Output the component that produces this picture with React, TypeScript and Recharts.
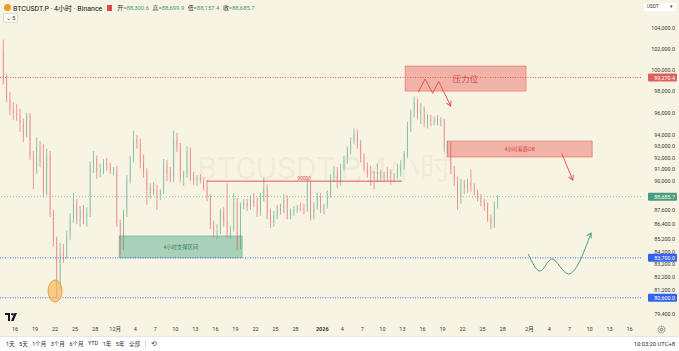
import React from "react";
import {
  ComposedChart,
  Bar,
  Line,
  XAxis,
  YAxis,
  ReferenceLine,
  ReferenceArea,
  ReferenceDot,
} from "recharts";

// BTCUSDT.P, read off the 4h chart and merged into 12h candles (thousands USDT)
// first candle opens 2025-11-14 00:00
const openK = [
  101.9, 99.0, 97.3, 96.2, 96.0, 95.9, 95.0, 94.0, 95.8, 92.2, 90.9, 93.0, 91.6, 89.0, 92.3, 87.3, 85.2, 81.6, 84.0, 83.9,
  85.4, 86.9, 88.0, 86.8, 87.6, 86.9, 87.3, 91.4, 91.9, 90.8, 91.0, 91.6, 91.3, 90.9, 91.0, 86.5, 84.6, 87.3, 90.2, 91.9,
  93.6, 93.3, 91.6, 90.8, 89.2, 89.5, 89.1, 88.8, 89.2, 91.4, 90.6, 90.2, 93.6, 92.9, 90.3, 90.6, 92.6, 90.3, 90.1, 90.2,
  90.0, 89.5, 88.6, 86.3, 85.7, 85.9, 87.4, 86.6, 85.8, 86.0, 88.3, 84.6, 87.9, 88.2, 87.9, 88.4, 88.1, 87.4, 88.6, 89.4,
  87.2, 86.6, 87.1, 87.7, 87.5, 88.5, 87.1, 87.4, 87.6, 87.8, 87.7, 87.6, 89.8, 87.0, 87.9, 88.7, 87.6, 87.9, 88.9, 90.3,
  90.9, 89.9, 91.2, 91.8, 92.6, 93.5, 94.2, 93.3, 92.0, 91.1, 90.6, 90.4, 90.2, 90.7, 90.3, 90.5, 90.4, 90.2, 90.5, 90.9,
  91.4, 92.3, 94.8, 96.0, 97.0, 95.9, 96.3, 95.1, 95.5, 95.2, 95.4, 95.1, 95.3, 92.9, 93.1, 91.0, 90.0, 88.6, 89.8, 89.4,
  89.9, 89.5, 89.1, 88.6, 88.2, 87.9, 87.0, 86.3, 87.9,
];
const highK = [
  102.9, 99.6, 97.9, 97.0, 96.8, 96.4, 95.5, 96.0, 96.0, 92.6, 93.8, 93.5, 93.2, 92.8, 92.6, 87.6, 85.4, 84.9, 84.8, 85.9,
  87.3, 89.0, 88.5, 87.9, 88.0, 87.8, 91.7, 92.6, 92.2, 91.5, 91.9, 92.0, 91.6, 91.2, 91.3, 86.8, 87.6, 90.5, 92.2, 94.4,
  94.0, 93.7, 92.3, 91.1, 89.8, 89.9, 89.7, 89.3, 91.9, 91.8, 91.2, 94.4, 94.2, 93.3, 90.9, 93.0, 92.9, 90.8, 90.5, 90.6,
  90.3, 90.1, 88.9, 86.7, 86.4, 87.7, 87.8, 89.8, 86.3, 89.0, 88.6, 88.2, 88.5, 88.5, 88.8, 89.0, 88.6, 89.0, 90.3, 89.7,
  87.7, 87.5, 88.0, 88.1, 88.9, 88.8, 87.7, 87.9, 88.0, 88.2, 88.1, 90.2, 90.0, 88.2, 89.0, 89.0, 88.1, 89.2, 90.6, 91.3,
  91.2, 91.5, 92.2, 93.0, 93.8, 94.6, 94.5, 93.6, 92.4, 91.6, 91.3, 90.9, 91.5, 91.0, 90.8, 91.2, 91.0, 90.7, 91.5, 91.8,
  92.6, 95.2, 96.3, 97.5, 97.3, 96.9, 96.6, 95.9, 95.8, 95.7, 95.8, 95.6, 95.5, 93.5, 93.4, 91.3, 90.4, 90.2, 90.1, 90.2,
  91.0, 89.8, 89.3, 88.9, 88.5, 88.2, 87.2, 88.3, 88.8,
];
const lowK = [
  98.6, 97.0, 95.8, 95.4, 95.3, 94.3, 93.4, 93.8, 91.8, 89.3, 90.6, 91.2, 88.6, 88.8, 87.0, 84.6, 80.6, 81.3, 83.3, 83.6,
  85.1, 86.5, 86.4, 86.2, 86.4, 86.2, 87.0, 90.7, 90.2, 90.3, 90.6, 90.9, 90.6, 90.5, 86.2, 83.9, 84.3, 87.0, 89.8, 91.6,
  92.8, 91.1, 90.3, 88.0, 88.5, 88.8, 87.6, 88.4, 88.9, 90.0, 89.9, 89.9, 92.5, 89.9, 89.6, 90.3, 90.0, 89.7, 89.6, 89.8,
  89.2, 88.3, 86.0, 85.3, 85.2, 85.6, 86.2, 85.3, 85.2, 85.8, 84.3, 84.4, 87.6, 87.5, 87.6, 87.8, 87.0, 87.1, 88.3, 86.8,
  86.1, 86.2, 86.8, 87.2, 87.3, 86.8, 86.8, 87.1, 87.3, 87.5, 87.2, 87.4, 86.7, 86.8, 87.6, 87.3, 87.2, 87.7, 88.6, 89.9,
  89.4, 89.6, 90.9, 91.5, 92.3, 93.2, 92.8, 91.6, 90.8, 90.3, 89.6, 89.3, 89.9, 90.0, 89.9, 90.0, 89.7, 89.9, 90.2, 90.4,
  91.0, 92.0, 94.3, 95.6, 95.4, 95.0, 94.7, 94.6, 94.8, 94.9, 94.9, 94.8, 92.5, 92.4, 90.6, 89.6, 87.6, 88.1, 88.9, 89.0,
  89.1, 88.8, 88.3, 87.9, 87.5, 86.6, 86.0, 86.1, 87.7,
];
const closeK = [
  99.0, 97.3, 96.2, 96.0, 95.9, 95.0, 94.0, 95.8, 92.2, 90.9, 93.0, 91.6, 89.0, 92.3, 87.3, 85.2, 81.6, 84.0, 83.9, 85.4,
  86.9, 88.0, 86.8, 87.6, 86.9, 87.3, 91.4, 91.9, 90.8, 91.0, 91.6, 91.3, 90.9, 91.0, 86.5, 84.6, 87.3, 90.2, 91.9, 93.6,
  93.3, 91.6, 90.8, 89.2, 89.5, 89.1, 88.8, 89.2, 91.4, 90.6, 90.2, 93.6, 92.9, 90.3, 90.6, 92.6, 90.3, 90.1, 90.2, 90.0,
  89.5, 88.6, 86.3, 85.7, 85.9, 87.4, 86.6, 85.8, 86.0, 88.3, 84.6, 87.9, 88.2, 87.9, 88.4, 88.1, 87.4, 88.6, 89.4, 87.2,
  86.6, 87.1, 87.7, 87.5, 88.5, 87.1, 87.4, 87.6, 87.8, 87.7, 87.6, 89.8, 87.0, 87.9, 88.7, 87.6, 87.9, 88.9, 90.3, 90.9,
  89.9, 91.2, 91.8, 92.6, 93.5, 94.2, 93.3, 92.0, 91.1, 90.6, 90.4, 90.2, 90.7, 90.3, 90.5, 90.4, 90.2, 90.5, 90.9, 91.4,
  92.3, 94.8, 96.0, 97.0, 95.9, 96.3, 95.1, 95.5, 95.2, 95.4, 95.1, 95.3, 92.9, 93.1, 91.0, 90.0, 88.6, 89.8, 89.4, 89.9,
  89.5, 89.1, 88.6, 88.2, 87.9, 87.0, 86.3, 87.9, 88.686,
];

// x is measured in days from 2025-11-16 00:00
const FIRST_DAY = -2;
const CANDLE_DAYS = 0.5;

const dayTicks = [0, 3, 6, 9, 12, 15, 18, 21, 24, 27, 30, 33, 36, 39, 42, 46, 49, 52, 55, 58, 61, 64, 67, 70, 73, 77, 80, 83, 86, 89, 92];
const dayLabels = ["16", "19", "22", "25", "28", "12月", "4", "7", "10", "13", "16", "19", "22", "25", "28", "2026", "4", "7", "10", "13", "16", "19", "22", "25", "28", "2月", "4", "7", "10", "13", "16"];
const priceTicks = [79400, 81200, 82200, 83200, 84200, 85200, 86400, 87600, 90000, 91000, 92000, 93000, 94000, 96000, 98000, 100000, 102000, 104000];

const resistanceLine = 99270.4;
const lastPrice = 88685.7;
const supportLines = [83700, 80600];

// drawings on the chart (day, price)
const supportZone = { from: 15.6, to: 34.0, low: 83700, high: 85450, text: "4小时支撑区间" };
const pressureZone = { from: 58.4, to: 76.5, low: 98000, high: 100350, text: "压力位" };
const obZone = { from: 64.7, to: 86.4, low: 92080, high: 93480, text: "4小时看跌OB" };
const level90k = { from: 28.7, to: 57.9, price: 90000, text: "90000" };
const zigzag = [
  { t: 60.37, p: 97890 },
  { t: 61.38, p: 99130 },
  { t: 62.53, p: 97800 },
  { t: 63.43, p: 98910 },
  { t: 65.22, p: 96630 },
];
const obArrow = [
  { t: 81.84, p: 92400 },
  { t: 83.49, p: 90100 },
];
const wave = [
  { t: 76.84, p: 84000 },
  { t: 78.59, p: 82660 },
  { t: 80.34, p: 83610 },
  { t: 82.83, p: 82430 },
  { t: 86.23, p: 85690 },
];
const lowMark = { t: 6.0, p: 81110 };

const ohlcNames = ["开", "高", "低", "收"];
const ohlcValues = ["88,300.6", "88,699.9", "88,157.4", "88,685.7"];
const rangeButtons = ["1天", "5天", "1个月", "3个月", "6个月", "YTD", "1年", "5年", "全部"];

const candles = closeK.map((c, i) => ({
  t: FIRST_DAY + i * CANDLE_DAYS + CANDLE_DAYS / 2,
  open: openK[i] * 1000,
  high: highK[i] * 1000,
  low: lowK[i] * 1000,
  close: c * 1000,
}));

const FONT = "Roboto, 'Noto Sans CJK SC', sans-serif";
const BG = "#f8f4e3";
const UP = "#4aa285";
const DOWN = "#e2575a";

const Candle = (props: any) => {
  const { x, y, width, height, payload } = props;
  if (!payload || !isFinite(y) || !isFinite(height)) return <g />;
  const top = Math.min(y, y + height);
  const h = Math.abs(height);
  const lnH = Math.log(payload.high);
  const lnL = Math.log(payload.low);
  const toY = (p: number) => top + ((lnH - Math.log(p)) / (lnH - lnL)) * h;
  const up = payload.close >= payload.open;
  const color = up ? UP : DOWN;
  const cx = x + width / 2;
  const b1 = toY(Math.max(payload.open, payload.close));
  const b2 = toY(Math.min(payload.open, payload.close));
  return (
    <g>
      <line x1={cx} x2={cx} y1={top} y2={top + h} stroke={color} strokeOpacity={0.6} strokeWidth={1} />
      <rect x={x} y={b1} width={width} height={Math.max(1, b2 - b1)} fill={color} />
    </g>
  );
};

const DayTick = (props: any) => {
  const { x, payload } = props;
  const label = dayLabels[dayTicks.indexOf(payload.value)];
  return (
    <text x={x} y={331} textAnchor="middle" fontSize={5.5} fill="#3a3a3a" fontFamily={FONT} fontWeight={label === "2026" ? 700 : 400}>
      {label}
    </text>
  );
};

const PriceTick = (props: any) => {
  const { y, payload } = props;
  return (
    <text x={675} y={y + 2} textAnchor="end" fontSize={5.4} fill="#3a3a3a" fontFamily={FONT}>
      {payload.value.toLocaleString("en-US", { minimumFractionDigits: 1, maximumFractionDigits: 1 })}
    </text>
  );
};

const priceTag = (value: number, bg: string) => (props: any) => {
  const y = props.viewBox?.y ?? 0;
  return (
    <g>
      <rect x={648} y={y - 4} width={29} height={8} fill={bg} rx={1} />
      <text x={675} y={y + 2} textAnchor="end" fontSize={5.4} fill="#ffffff" fontFamily={FONT}>
        {value.toLocaleString("en-US", { minimumFractionDigits: 1, maximumFractionDigits: 1 })}
      </text>
    </g>
  );
};

const arrowDot = (count: number, angle: number, color: string) => (p: any) =>
  p.index === count - 1 ? (
    <path
      key={`a${p.index}`}
      d="M-4.5,-2.6 L0,0 L-4.5,2.6"
      transform={`translate(${p.cx},${p.cy}) rotate(${angle})`}
      fill="none"
      stroke={color}
      strokeWidth={1}
    />
  ) : (
    <g key={`a${p.index}`} />
  );

export default function App() {
  return (
    <div style={{ position: "fixed", left: 0, top: 0, width: 679, height: 351, background: BG, overflow: "hidden", fontFamily: FONT }}>
      {/* watermark */}
      <div
        style={{
          position: "absolute",
          left: 197,
          top: 142,
          fontSize: 32,
          color: "rgba(120,110,80,0.07)",
          whiteSpace: "nowrap",
          fontFamily: FONT,
        }}
      >
        BTCUSDT.P, 4小时
      </div>

      <div style={{ position: "absolute", left: 0, top: 0 }}>
        <ComposedChart width={679} height={336} data={candles} margin={{ top: 0, right: 0, bottom: 0, left: 0 }}>
          <XAxis
            dataKey="t"
            type="number"
            domain={[-2.245, 93.71]}
            allowDataOverflow
            ticks={dayTicks}
            interval={0}
            axisLine={false}
            tickLine={false}
            height={14}
            tick={DayTick}
          />
          <YAxis
            orientation="right"
            type="number"
            scale="log"
            domain={[78771, 106823]}
            allowDataOverflow
            ticks={priceTicks}
            interval={0}
            width={38}
            axisLine={false}
            tickLine={false}
            tick={PriceTick}
          />

          <ReferenceArea
            x1={supportZone.from}
            x2={supportZone.to}
            y1={supportZone.low}
            y2={supportZone.high}
            fill="#4aa582"
            fillOpacity={0.45}
            stroke="#4aa582"
            strokeOpacity={0.5}
            label={{ value: supportZone.text, position: "center", fontSize: 5.3, fill: "#3c8467", fontFamily: FONT }}
          />
          <ReferenceArea
            x1={pressureZone.from}
            x2={pressureZone.to}
            y1={pressureZone.low}
            y2={pressureZone.high}
            fill="#e8635f"
            fillOpacity={0.45}
            stroke="#e8635f"
            strokeOpacity={0.6}
            label={{ value: pressureZone.text, position: "center", fontSize: 8.5, fill: "#e04848", fontFamily: FONT }}
          />
          <ReferenceArea
            x1={obZone.from}
            x2={obZone.to}
            y1={obZone.low}
            y2={obZone.high}
            fill="#e8635f"
            fillOpacity={0.45}
            stroke="#e8635f"
            strokeOpacity={0.6}
            label={{ value: obZone.text, position: "center", fontSize: 5.2, fill: "#d84444", fontFamily: FONT }}
          />

          <Bar dataKey={(d: any) => [d.low, d.high]} barSize={2.6} shape={Candle} isAnimationActive={false} />

          <ReferenceLine
            segment={[
              { x: level90k.from, y: level90k.price },
              { x: level90k.to, y: level90k.price },
            ]}
            stroke="#e25555"
            strokeWidth={1}
            label={{ value: level90k.text, position: "top", offset: 1.5, fontSize: 4.8, fill: "#e25555", fontFamily: FONT }}
          />
          <ReferenceLine y={resistanceLine} stroke="#e06060" strokeDasharray="1 1.5" label={priceTag(resistanceLine, "#df5f5f")} />
          <ReferenceLine y={lastPrice} stroke="#94c2a6" strokeDasharray="1 2" label={priceTag(lastPrice, "#4a9a7c")} />
          {supportLines.map((p) => (
            <ReferenceLine key={p} y={p} stroke="#4a70ea" strokeDasharray="1 1.5" label={priceTag(p, "#3462ee")} />
          ))}

          <Line
            data={zigzag}
            dataKey="p"
            type="linear"
            stroke="#e25555"
            strokeWidth={1}
            dot={arrowDot(zigzag.length, 64, "#e25555")}
            activeDot={false}
            isAnimationActive={false}
          />
          <Line
            data={obArrow}
            dataKey="p"
            type="linear"
            stroke="#e25555"
            strokeWidth={1}
            dot={arrowDot(obArrow.length, 67, "#e25555")}
            activeDot={false}
            isAnimationActive={false}
          />
          <Line
            data={wave}
            dataKey="p"
            type="monotone"
            stroke="#4b9f82"
            strokeWidth={1}
            dot={arrowDot(wave.length, -62, "#4b9f82")}
            activeDot={false}
            isAnimationActive={false}
          />
          <ReferenceDot
            x={lowMark.t}
            y={lowMark.p}
            r={7}
            shape={(p: any) => (
              <ellipse cx={p.cx} cy={p.cy} rx={7} ry={11} fill="#f4b04a" fillOpacity={0.6} stroke="#eea23a" strokeWidth={1} />
            )}
          />
        </ComposedChart>
      </div>

      {/* legend header */}
      <div style={{ position: "absolute", left: 4, top: 3, display: "flex", alignItems: "center", whiteSpace: "nowrap", height: 9 }}>
        <div style={{ width: 7, height: 7, borderRadius: 4, background: "#f29b2a", marginRight: 2 }} />
        <span style={{ fontSize: 7, color: "#131722" }}>BTCUSDT.P · 4小时 · Binance</span>
        <div style={{ width: 5, height: 6, background: "#e04848", marginLeft: 5, marginRight: 5 }} />
        {ohlcNames.map((n, i) => (
          <span key={n} style={{ fontSize: 5.9, marginRight: 3.5 }}>
            <span style={{ color: "#333" }}>{n}</span>
            <span style={{ color: "#3f9a7a" }}>={ohlcValues[i]}</span>
          </span>
        ))}
      </div>
      <div
        style={{
          position: "absolute",
          left: 3,
          top: 13,
          width: 13,
          height: 8,
          border: "1px solid #dedbd0",
          borderRadius: 2,
          background: "#fbf9f1",
          fontSize: 5.5,
          color: "#333",
          lineHeight: "8px",
          textAlign: "center",
        }}
      >
        ⌄ 5
      </div>

      {/* currency selector */}
      <div
        style={{
          position: "absolute",
          left: 644,
          top: 3,
          width: 32,
          height: 8,
          background: "#ffffff",
          borderRadius: 2,
          fontSize: 4.8,
          color: "#333",
          lineHeight: "8px",
          paddingLeft: 3,
          boxSizing: "border-box",
        }}
      >
        USDT <span style={{ position: "absolute", right: 3 }}>▾</span>
      </div>

      {/* logo */}
      <svg style={{ position: "absolute", left: 5, top: 313 }} width={14} height={9}>
        <path d="M0,0 H5 V8 H3 V2 H0 Z" fill="#131722" />
        <circle cx={7.5} cy={1.3} r={1.3} fill="#131722" />
        <path d="M9.5,0 H12 L8.5,8 H6 Z" fill="#131722" />
      </svg>

      {/* gear */}
      <svg style={{ position: "absolute", left: 657, top: 325 }} width={9} height={9}>
        <circle cx={4.5} cy={4.5} r={3.4} fill="none" stroke="#555" strokeWidth={0.9} strokeDasharray="1.3 0.8" />
        <circle cx={4.5} cy={4.5} r={1.3} fill="none" stroke="#555" strokeWidth={0.8} />
      </svg>

      {/* bottom toolbar */}
      <div
        style={{
          position: "absolute",
          left: 0,
          top: 336,
          width: 679,
          height: 15,
          background: "#ffffff",
          borderTop: "1px solid #e6e6e6",
          boxSizing: "border-box",
          display: "flex",
          alignItems: "center",
          fontSize: 5.5,
          color: "#2a2a2a",
          whiteSpace: "nowrap",
        }}
      >
        <div style={{ display: "flex", marginLeft: 6 }}>
          {rangeButtons.map((b) => (
            <span key={b} style={{ marginRight: 4.5 }}>
              {b}
            </span>
          ))}
        </div>
        <div style={{ width: 1, height: 8, background: "#ddd", marginLeft: 1, marginRight: 5 }} />
        <span style={{ fontSize: 7, color: "#444" }}>⟲</span>
        <span style={{ position: "absolute", right: 4, fontSize: 5.8, color: "#2a2a2a" }}>10:03:20 UTC+8</span>
      </div>
    </div>
  );
}
